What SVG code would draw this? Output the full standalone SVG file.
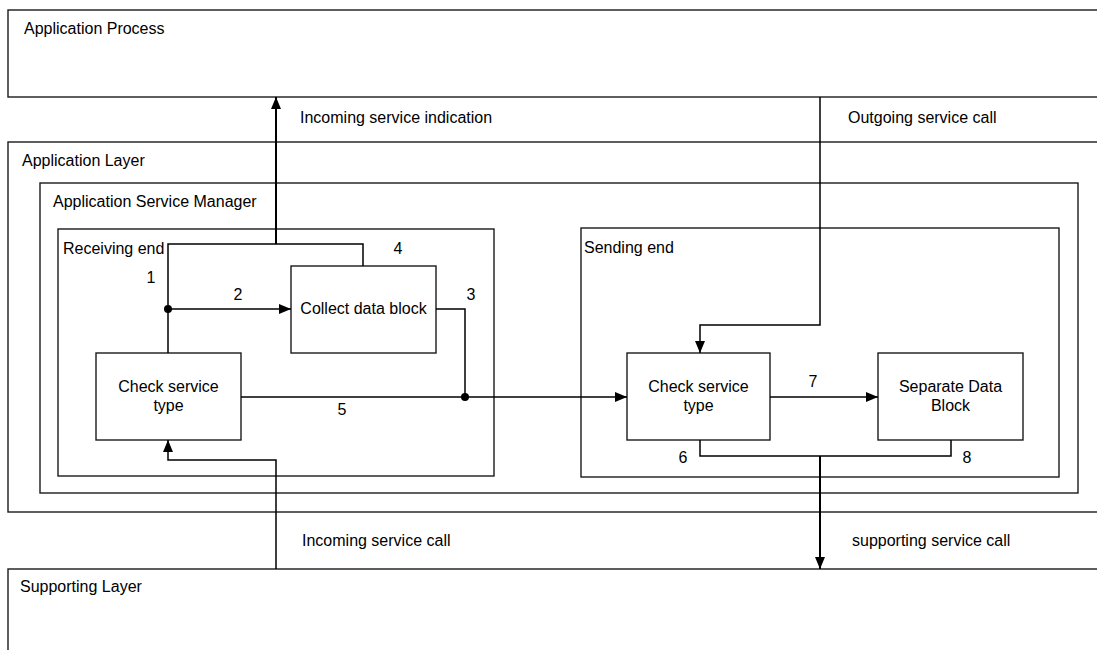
<svg xmlns="http://www.w3.org/2000/svg" width="1097" height="650" viewBox="0 0 1097 650">
<style>
.box{fill:none;stroke:#1a1a1a;stroke-width:1.4}
.lbl{font-family:"Liberation Sans",Arial,sans-serif;font-size:16px;fill:#000}
.mid{text-anchor:middle}
.ln{fill:none;stroke:#000;stroke-width:1.5}
.thick{fill:none;stroke:#000;stroke-width:2}
</style>
<defs>
<marker id="arr" viewBox="0 0 12 10" refX="12" refY="5" markerWidth="12" markerHeight="10" markerUnits="userSpaceOnUse" orient="auto">
<path d="M0,0 L12,5 L0,10 Z" fill="#000"/>
</marker>
</defs>
<rect width="1097" height="650" fill="#fff"/>
<g id="application-process">
<rect class="box" x="8" y="10" width="1100" height="87"/>
<text class="lbl" x="24" y="34">Application Process</text>
</g>
<g id="application-layer">
<rect class="box" x="8" y="142" width="1100" height="370"/>
<text class="lbl" x="22" y="166">Application Layer</text>
</g>
<g id="application-service-manager">
<rect class="box" x="40" y="183" width="1038" height="310"/>
<text class="lbl" x="53" y="207">Application Service Manager</text>
</g>
<g id="receiving-end">
<rect class="box" x="58" y="229" width="436" height="247"/>
<text class="lbl" x="63" y="254">Receiving end</text>
</g>
<g id="sending-end">
<rect class="box" x="581" y="228" width="478" height="249"/>
<text class="lbl" x="584" y="253">Sending end</text>
</g>
<g id="check-service-type-recv">
<rect class="box" x="96" y="353" width="145" height="87"/>
<text class="lbl mid" x="168.5" y="392">Check service</text>
<text class="lbl mid" x="168.5" y="411">type</text>
</g>
<g id="collect-data-block">
<rect class="box" x="291" y="266" width="145" height="87"/>
<text class="lbl mid" x="363.5" y="314">Collect data block</text>
</g>
<g id="check-service-type-send">
<rect class="box" x="627" y="353" width="143" height="87"/>
<text class="lbl mid" x="698.5" y="392">Check service</text>
<text class="lbl mid" x="698.5" y="411">type</text>
</g>
<g id="separate-data-block">
<rect class="box" x="878" y="353" width="145" height="87"/>
<text class="lbl mid" x="950.5" y="392">Separate Data</text>
<text class="lbl mid" x="950.5" y="411">Block</text>
</g>
<g id="supporting-layer">
<rect class="box" x="8" y="569" width="1100" height="100"/>
<text class="lbl" x="20" y="592">Supporting Layer</text>
</g>
<g id="connectors">
<path class="thick" d="M276,244 L276,97" marker-end="url(#arr)"/>
<path class="ln" d="M168,353 L168,244 L363,244 L363,266"/>
<path class="ln" d="M168,309 L291,309" marker-end="url(#arr)"/>
<circle cx="168" cy="309" r="4" fill="#000"/>
<path class="ln" d="M436,309 L465,309 L465,397"/>
<path class="ln" d="M241,397 L627,397" marker-end="url(#arr)"/>
<circle cx="465" cy="397" r="4" fill="#000"/>
<path class="ln" d="M820,97 L820,325 L700,325 L700,353" marker-end="url(#arr)"/>
<path class="ln" d="M770,397 L878,397" marker-end="url(#arr)"/>
<path class="ln" d="M700,440 L700,456 L951,456 L951,440"/>
<path class="thick" d="M820,456 L820,569" marker-end="url(#arr)"/>
<path class="ln" d="M276,569 L276,460 L168,460 L168,440" marker-end="url(#arr)"/>
<text class="lbl" x="300" y="123">Incoming service indication</text>
<text class="lbl" x="848" y="123">Outgoing service call</text>
<text class="lbl" x="302" y="546">Incoming service call</text>
<text class="lbl" x="852" y="546">supporting service call</text>
<text class="lbl mid" x="151" y="283">1</text>
<text class="lbl mid" x="238" y="300">2</text>
<text class="lbl mid" x="471" y="300">3</text>
<text class="lbl mid" x="398" y="254">4</text>
<text class="lbl mid" x="342" y="415">5</text>
<text class="lbl mid" x="683" y="463">6</text>
<text class="lbl mid" x="813" y="387">7</text>
<text class="lbl mid" x="967" y="463">8</text>
</g>
</svg>
